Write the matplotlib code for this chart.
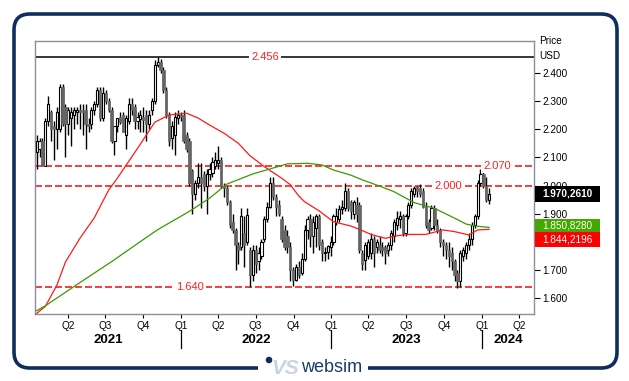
import numpy as np
import pandas as pd
import matplotlib
matplotlib.use('Agg')
import matplotlib.pyplot as plt
import matplotlib.dates as mdates
import matplotlib.transforms as mtransforms
from matplotlib.patches import FancyBboxPatch, Rectangle, Circle

plt.rcParams['font.family'] = ['Liberation Sans', 'DejaVu Sans']

# weekly candles, first week 2021-01-15
opens = [2.12, 2.13, 2.16, 2.07, 2.23, 2.26, 2.21, 2.20, 2.20, 2.35,
         2.28, 2.22, 2.24, 2.25, 2.26, 2.27, 2.27, 2.27, 2.22, 2.22,
         2.27, 2.29, 2.34, 2.24, 2.33, 2.30, 2.27, 2.16, 2.21, 2.245,
         2.25, 2.18, 2.23, 2.29, 2.28, 2.23, 2.235, 2.245, 2.25, 2.22,
         2.27, 2.30, 2.43, 2.44, 2.41, 2.34, 2.25, 2.17, 2.18, 2.24,
         2.25, 2.25, 2.18, 2.16, 2.05, 1.97, 2.01, 2.03, 2.04, 2.00,
         2.04, 2.045, 2.07, 2.08, 2.09, 2.00, 1.99, 1.94, 1.87, 1.84,
         1.79, 1.78, 1.83, 1.80, 1.77, 1.68, 1.77, 1.73, 1.75, 1.81,
         1.88, 1.925, 2.01, 1.96, 1.93, 1.88, 1.84, 1.82, 1.78, 1.70,
         1.665, 1.71, 1.69, 1.74, 1.84, 1.88, 1.82, 1.85, 1.89, 1.80,
         1.76, 1.765, 1.78, 1.80, 1.87, 1.88, 1.915, 1.92, 1.98, 1.94,
         1.90, 1.93, 1.93, 1.76, 1.735, 1.75, 1.76, 1.81, 1.78, 1.79,
         1.78, 1.78, 1.77, 1.79, 1.82, 1.86, 1.88, 1.89, 1.83, 1.89,
         1.93, 1.97, 1.995, 1.99, 1.98, 1.925, 1.87, 1.85, 1.92, 1.86,
         1.84, 1.80, 1.79, 1.77, 1.76, 1.73, 1.69, 1.66, 1.75, 1.76,
         1.79, 1.81, 1.86, 1.89, 2.01, 2.04, 2.00, 1.95]
highs = [2.18, 2.17, 2.17, 2.24, 2.32, 2.27, 2.23, 2.28, 2.36, 2.36,
         2.29, 2.28, 2.28, 2.28, 2.28, 2.29, 2.29, 2.29, 2.24, 2.28,
         2.30, 2.35, 2.35, 2.35, 2.34, 2.31, 2.28, 2.21, 2.24, 2.26,
         2.26, 2.25, 2.31, 2.31, 2.29, 2.26, 2.27, 2.28, 2.27, 2.27,
         2.31, 2.445, 2.457, 2.45, 2.42, 2.35, 2.26, 2.23, 2.26, 2.27,
         2.26, 2.27, 2.19, 2.17, 2.06, 2.02, 2.08, 2.08, 2.05, 2.06,
         2.08, 2.10, 2.12, 2.14, 2.10, 2.01, 2.00, 1.95, 1.90, 1.85,
         1.80, 1.92, 1.89, 1.92, 1.78, 1.79, 1.79, 1.78, 1.81, 1.89,
         1.94, 2.03, 2.03, 1.97, 1.95, 1.89, 1.86, 1.84, 1.80, 1.71,
         1.72, 1.73, 1.76, 1.86, 1.89, 1.90, 1.89, 1.90, 1.90, 1.81,
         1.78, 1.79, 1.82, 1.90, 1.92, 1.93, 1.95, 2.01, 1.99, 1.95,
         1.95, 1.96, 1.94, 1.77, 1.80, 1.81, 1.83, 1.82, 1.81, 1.82,
         1.80, 1.79, 1.80, 1.84, 1.88, 1.91, 1.91, 1.90, 1.90, 1.94,
         1.99, 2.00, 2.00, 2.005, 1.99, 1.94, 1.88, 1.93, 1.93, 1.88,
         1.85, 1.81, 1.80, 1.80, 1.78, 1.74, 1.70, 1.77, 1.78, 1.80,
         1.83, 1.87, 1.90, 2.02, 2.06, 2.07, 2.03, 1.99]
lows = [2.06, 2.10, 2.07, 2.07, 2.21, 2.16, 2.09, 2.13, 2.19, 2.21,
        2.10, 2.18, 2.14, 2.20, 2.22, 2.20, 2.18, 2.13, 2.19, 2.20,
        2.25, 2.28, 2.23, 2.23, 2.29, 2.26, 2.15, 2.11, 2.19, 2.22,
        2.19, 2.13, 2.22, 2.25, 2.20, 2.20, 2.19, 2.19, 2.16, 2.20,
        2.25, 2.29, 2.42, 2.40, 2.33, 2.24, 2.14, 2.13, 2.11, 2.22,
        2.23, 2.15, 2.12, 2.00, 1.90, 1.95, 1.99, 1.92, 1.98, 1.90,
        2.02, 2.03, 2.06, 2.06, 1.99, 1.96, 1.93, 1.85, 1.83, 1.70,
        1.72, 1.77, 1.71, 1.79, 1.64, 1.66, 1.69, 1.70, 1.74, 1.80,
        1.87, 1.92, 1.95, 1.89, 1.89, 1.80, 1.77, 1.76, 1.66, 1.643,
        1.66, 1.67, 1.68, 1.73, 1.81, 1.78, 1.76, 1.78, 1.77, 1.73,
        1.73, 1.74, 1.75, 1.79, 1.86, 1.87, 1.90, 1.91, 1.91, 1.88,
        1.88, 1.87, 1.76, 1.70, 1.70, 1.74, 1.74, 1.71, 1.76, 1.76,
        1.75, 1.72, 1.75, 1.77, 1.80, 1.84, 1.85, 1.82, 1.82, 1.88,
        1.92, 1.96, 1.96, 1.96, 1.92, 1.85, 1.83, 1.84, 1.84, 1.83,
        1.78, 1.75, 1.74, 1.71, 1.70, 1.66, 1.637, 1.64, 1.73, 1.74,
        1.77, 1.79, 1.85, 1.88, 2.00, 1.99, 1.94, 1.935]
closes = [2.16, 2.16, 2.07, 2.23, 2.29, 2.20, 2.20, 2.26, 2.35, 2.22,
          2.22, 2.27, 2.26, 2.27, 2.27, 2.26, 2.26, 2.22, 2.21, 2.27,
          2.29, 2.34, 2.24, 2.33, 2.30, 2.27, 2.16, 2.21, 2.24, 2.227,
          2.19, 2.24, 2.29, 2.27, 2.23, 2.245, 2.25, 2.233, 2.22, 2.25,
          2.30, 2.43, 2.44, 2.41, 2.34, 2.25, 2.16, 2.21, 2.245, 2.25,
          2.245, 2.16, 2.13, 2.01, 1.97, 2.01, 2.03, 2.01, 2.00, 2.04,
          2.06, 2.085, 2.09, 2.09, 2.00, 1.99, 1.94, 1.86, 1.84, 1.79,
          1.77, 1.89, 1.79, 1.895, 1.68, 1.77, 1.72, 1.76, 1.80, 1.88,
          1.925, 2.01, 1.96, 1.925, 1.90, 1.81, 1.78, 1.78, 1.70, 1.665,
          1.71, 1.68, 1.74, 1.84, 1.88, 1.82, 1.87, 1.89, 1.79, 1.76,
          1.765, 1.785, 1.80, 1.89, 1.89, 1.915, 1.925, 1.98, 1.92, 1.91,
          1.94, 1.90, 1.77, 1.72, 1.79, 1.80, 1.81, 1.76, 1.80, 1.77,
          1.77, 1.76, 1.79, 1.83, 1.87, 1.885, 1.89, 1.83, 1.89, 1.93,
          1.98, 1.99, 1.98, 1.97, 1.925, 1.86, 1.84, 1.92, 1.86, 1.84,
          1.80, 1.79, 1.77, 1.75, 1.73, 1.68, 1.66, 1.76, 1.77, 1.79,
          1.81, 1.86, 1.89, 2.01, 2.04, 2.00, 1.95, 1.970]

# moving averages at some weeks
red_weeks = [0, 3, 7, 10, 15, 20, 25, 28, 35, 41, 46, 52, 56, 60, 65, 70, 74, 79,
             85, 88, 91, 93, 98, 103, 109, 112, 116, 121, 124, 129, 135, 141, 145,
             150, 153, 157]
red_vals = [1.545, 1.570, 1.645, 1.728, 1.812, 1.885, 1.984, 2.026, 2.132, 2.225,
            2.251, 2.257, 2.240, 2.215, 2.186, 2.150, 2.106, 2.067, 2.026, 2.003,
            1.962, 1.942, 1.910, 1.871, 1.856, 1.844, 1.826, 1.812, 1.820, 1.826,
            1.826, 1.842, 1.836, 1.824, 1.842, 1.844]
green_weeks = [0, 3, 13, 27, 30, 41, 43, 53, 60, 66, 75, 81, 87, 94, 99, 103, 109,
               113, 119, 124, 131, 138, 145, 149, 152, 157]
green_vals = [1.555, 1.572, 1.641, 1.736, 1.758, 1.836, 1.849, 1.908, 1.955, 2.005,
              2.041, 2.059, 2.077, 2.079, 2.073, 2.055, 2.037, 2.020, 1.998, 1.978,
              1.939, 1.919, 1.884, 1.863, 1.856, 1.851]

levels = [2.070, 2.000, 1.640]
top_level = 2.456
last_labels = ['1.970,2610', '1.850,8280', '1.844,2196']
quarters = ['Q2', 'Q3', 'Q4', 'Q1', 'Q2', 'Q3', 'Q4', 'Q1', 'Q2', 'Q3', 'Q4', 'Q1', 'Q2']
years = [2021, 2022, 2023, 2024]

assert len(opens) == len(highs) == len(lows) == len(closes)
dates = pd.date_range('2021-01-15', periods=len(closes), freq='7D')
o = np.array(opens); h = np.array(highs); l = np.array(lows); c = np.array(closes)

W, H = 629, 381
fig = plt.figure(figsize=(W / 100, H / 100), dpi=100)

# background layer in pixel coords: rounded frame and logo
bg = fig.add_axes([0, 0, 1, 1], zorder=-1)
bg.set_xlim(0, W); bg.set_ylim(H, 0); bg.axis('off')
navy = '#0f2e5c'
bg.add_patch(FancyBboxPatch((14, 14), 603, 354, boxstyle='round,pad=0,rounding_size=16',
                            ec=navy, fc='none', lw=2.6))
bg.add_patch(Rectangle((258, 358), 110, 20, fc='white', ec='none'))
bg.add_patch(Circle((269, 360), 2.6, color=navy))
bg.text(285, 368, 'VS', color='#c9d3e1', fontsize=15, fontweight='bold', style='italic',
        ha='center', va='center')
bg.text(332, 368, 'websim', color='#1b3a6a', fontsize=13, ha='center', va='center')

ax = fig.add_axes([35 / W, 1 - 314 / H, 499 / W, 273 / H])
ax.set_xlim(pd.Timestamp('2021-01-11'), pd.Timestamp('2024-05-07'))
ax.set_ylim(1.5431, 2.5138)

# candles
up = c >= o
ax.vlines(dates, l, h, color='black', lw=1.0, zorder=3)
xd = mdates.date2num(dates)
ax.bar(xd[up], (c - o)[up], bottom=o[up], width=5.2, color='white', edgecolor='black',
       lw=0.8, zorder=4)
ax.bar(xd[~up], (o - c)[~up], bottom=c[~up], width=5.6, color='#656565', edgecolor='#656565',
       lw=0.5, zorder=4)

# moving averages
ax.plot(dates[red_weeks], red_vals, color='#ff1a1a', lw=0.9, zorder=5)
ax.plot(dates[green_weeks], green_vals, color='#3a9a00', lw=0.9, zorder=5)

# horizontal levels
blend = mtransforms.blended_transform_factory(ax.transAxes, ax.transData)
ax.axhline(top_level, color='black', lw=1.1, zorder=2)
ax.text(0.461, top_level, f'{top_level:.3f}', transform=blend, color='#ff2020', fontsize=8,
        ha='center', va='center', zorder=6,
        bbox=dict(fc='white', ec='none', pad=1.5))
lab_x = [0.926, 0.828, 0.311]
for y, lx in zip(levels, lab_x):
    ax.axhline(y, color='#ff1a1a', lw=1.2, ls=(0, (4.2, 1.8)), zorder=2)
    ax.text(lx, y, f'{y:.3f}', transform=blend, color='#ff2020', fontsize=8,
            ha='center', va='center', zorder=6, bbox=dict(fc='white', ec='none', pad=1.5))

# right axis; 1.800 sits under the last-value boxes
ax.yaxis.tick_right()
yt = np.arange(1.6, 2.41, 0.1)
ax.set_yticks(yt)
ax.set_yticklabels(['' if abs(v - 1.8) < 1e-6 else f'{v:.3f}' for v in yt])
ax.tick_params(axis='y', length=4, width=0.8, pad=2, labelsize=7.2, colors='black')
for s in ax.spines.values():
    s.set_color('#8e8e9e')
    s.set_linewidth(1.0)
ax.text(1.01, 1.0, 'Price', transform=ax.transAxes, fontsize=7.2, va='center', ha='left')
ax.text(1.01, 0.945, 'USD', transform=ax.transAxes, fontsize=7.2, va='center', ha='left')

# last value boxes
box_y = [(1.943, 1.997), (1.835, 1.882), (1.782, 1.835)]
box_c = ['black', '#44a800', '#ff0000']
for (y0, y1), col, txt, fw in zip(box_y, box_c, last_labels, ['bold', 'normal', 'normal']):
    ax.add_patch(Rectangle((1.002, y0), 0.131, y1 - y0, transform=blend, fc=col, ec='none',
                           clip_on=False, zorder=7))
    ax.text(1.0675, (y0 + y1) / 2, txt, transform=blend, color='white', fontsize=7.2,
            fontweight=fw, ha='center', va='center', clip_on=False, zorder=8)

# quarter ticks and year labels
qdates = pd.date_range('2021-04-01', '2024-04-01', freq='QS')
ax.set_xticks(qdates)
ax.set_xticklabels(quarters)
ax.tick_params(axis='x', length=3, width=0.8, pad=2, labelsize=7.2, colors='black')
xblend = mtransforms.blended_transform_factory(ax.transData, ax.transAxes)
x0, x1 = ax.get_xlim()
for yr in years:
    a = max(mdates.date2num(pd.Timestamp(f'{yr}-01-01')), x0)
    b = min(mdates.date2num(pd.Timestamp(f'{yr + 1}-01-01')), x1)
    ax.text((a + b) / 2, -0.095, str(yr), transform=xblend, fontsize=9.5, fontweight='bold',
            ha='center', va='center')
    if yr > years[0]:
        ax.plot([a, a], [-0.059, -0.125], transform=xblend, color='black', lw=0.9,
                clip_on=False)

fig.savefig('out.png', dpi=100, facecolor='white')
